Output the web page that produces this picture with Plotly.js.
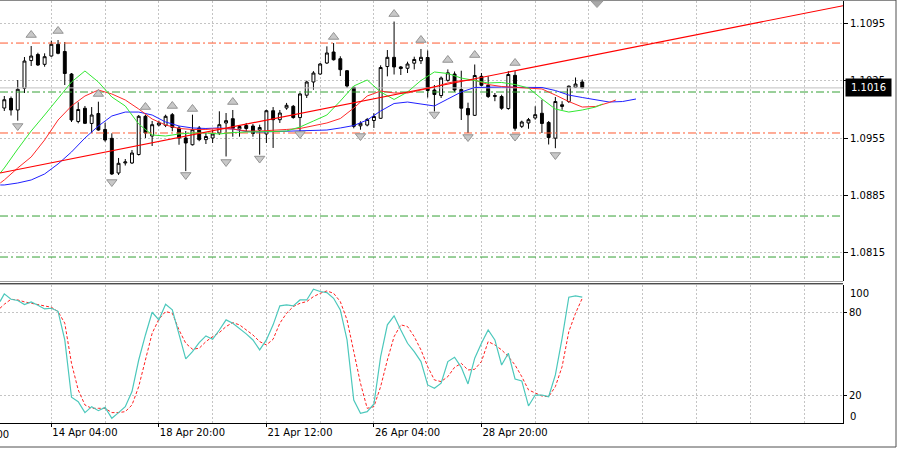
<!DOCTYPE html>
<html><head><meta charset="utf-8">
<script src="https://cdn.plot.ly/plotly-3.0.1.min.js"></script>
<style>html,body{margin:0;padding:0;background:#fff;} #chart{width:900px;height:449px;}</style>
</head><body><div id="chart"></div>
<script>
// ---- H4 candles (bar index 0..86) ----
const open = [1.09915,1.10031,1.09891,1.10155,1.10493,1.10567,1.10447,1.10548,1.10691,1.10603,
 1.10329,1.09751,1.09912,1.09727,1.09848,1.09654,1.09546,1.09124,1.09246,1.09246,
 1.09349,1.09814,1.09574,1.09708,1.09705,1.09834,1.09672,1.09550,1.09468,1.09672,
 1.09530,1.09550,1.09611,1.09733,1.09785,1.09660,1.09702,1.09696,1.09647,1.09599,
 1.09882,1.09773,1.09915,1.09936,1.09799,1.10071,1.10232,1.10329,1.10463,1.10597,
 1.10515,1.10369,1.10167,1.09698,1.09708,1.09763,1.09790,1.10420,1.10532,1.10415,
 1.10399,1.10461,1.10491,1.10530,1.10134,1.10067,1.10252,1.10329,1.10140,1.09909,
 1.09826,1.10301,1.10192,1.10055,1.10055,1.09909,1.10313,1.09692,1.09733,1.09794,
 1.09851,1.09739,1.09548,1.09934,1.09994,1.10168,1.10232];
const high = [1.10061,1.10055,1.10256,1.10536,1.10670,1.10588,1.10581,1.10735,1.10743,1.10719,
 1.10341,1.09985,1.09940,1.09927,1.09992,1.09736,1.09607,1.09307,1.09294,1.09404,
 1.09830,1.09834,1.09757,1.09761,1.09834,1.09854,1.09696,1.09635,1.09834,1.09696,
 1.09611,1.09651,1.09875,1.09854,1.09891,1.09708,1.09733,1.09720,1.09712,1.09894,
 1.09927,1.09891,1.09977,1.09952,1.10098,1.10248,1.10364,1.10463,1.10666,1.10706,
 1.10545,1.10378,1.10171,1.09753,1.09794,1.09851,1.10435,1.10621,1.10968,1.10427,
 1.10479,1.10540,1.10634,1.10615,1.10195,1.10299,1.10385,1.10360,1.10369,1.09980,
 1.10445,1.10341,1.10301,1.10098,1.10077,1.10364,1.10364,1.09761,1.09794,1.09936,
 1.10016,1.09757,1.10049,1.09998,1.10189,1.10287,1.10262];
const low = [1.09879,1.09824,1.09761,1.10098,1.10427,1.10427,1.10418,1.10540,1.10569,1.10195,
 1.09745,1.09729,1.09720,1.09611,1.09639,1.09505,1.09100,1.09100,1.09215,1.09234,
 1.09337,1.09550,1.09453,1.09692,1.09683,1.09632,1.09468,1.09147,1.09459,1.09511,
 1.09477,1.09489,1.09587,1.09325,1.09566,1.09566,1.09623,1.09566,1.09347,1.09489,
 1.09429,1.09733,1.09894,1.09785,1.09632,1.10037,1.10138,1.10321,1.10451,1.10493,
 1.10305,1.10159,1.09668,1.09651,1.09692,1.09672,1.09785,1.10301,1.10323,1.10317,
 1.10341,1.10385,1.10451,1.10043,1.09873,1.10037,1.10236,1.10111,1.09769,1.09611,
 1.09818,1.10179,1.10037,1.09998,1.09894,1.09894,1.09639,1.09672,1.09663,1.09773,
 1.09611,1.09471,1.09426,1.09894,1.09977,1.10159,1.10153];
const close = [1.10016,1.09891,1.10143,1.10487,1.10548,1.10439,1.10540,1.10691,1.10581,1.10335,
 1.09769,1.09897,1.09729,1.09830,1.09647,1.09526,1.09112,1.09242,1.09258,1.09367,
 1.09814,1.09611,1.09712,1.09733,1.09814,1.09680,1.09550,1.09489,1.09651,1.09530,
 1.09568,1.09599,1.09712,1.09761,1.09668,1.09690,1.09666,1.09605,1.09678,1.09882,
 1.09773,1.09854,1.09948,1.09799,1.10086,1.10232,1.10341,1.10451,1.10585,1.10503,
 1.10382,1.10183,1.09692,1.09729,1.09775,1.09812,1.10408,1.10532,1.10415,1.10397,
 1.10451,1.10506,1.10532,1.10128,1.10080,1.10280,1.10344,1.10134,1.09913,1.09832,
 1.10311,1.10192,1.10055,1.10067,1.09913,1.10323,1.09668,1.09745,1.09773,1.09834,
 1.09727,1.09556,1.09994,1.09955,1.10181,1.10207,1.10160];

// ---- Alligator lines ----
const lipsIdx = [-0.6,0,2,4,6,8,10,12,14,16,18,20,22,24,26,28,30,32,34,36,38,40,42,44,46,48,50,52,54,56,58,60,62,64,66,68,70,72,74,76,78,80,82,84,86,88,89];
const lipsVal = [1.09124,1.09185,1.09416,1.09635,1.09830,1.10037,1.10232,1.10366,1.10232,1.10049,1.09940,1.09720,1.09587,1.09574,1.09599,1.09611,1.09611,1.09599,1.09617,1.09623,1.09623,1.09629,1.09635,1.09684,1.09757,1.09830,1.10000,1.10183,1.10256,1.10110,1.10019,1.10110,1.10250,1.10354,1.10335,1.10280,1.10250,1.10220,1.10226,1.10201,1.10159,1.10025,1.09903,1.09866,1.09891,1.09927,1.09964];
const teethIdx = [-0.6,0,2,4,6,8,10,12,14,16,18,20,22,24,26,28,30,32,34,36,38,40,42,44,46,48,50,52,54,56,58,60,62,64,66,68,70,72,74,76,78,80,82,84,86,88,90,91];
const teethVal = [1.09002,1.09039,1.09185,1.09319,1.09526,1.09769,1.09940,1.10061,1.10134,1.10086,1.10013,1.09903,1.09781,1.09708,1.09666,1.09654,1.09654,1.09666,1.09660,1.09635,1.09635,1.09641,1.09654,1.09666,1.09696,1.09733,1.09787,1.09915,1.10061,1.10122,1.10098,1.10098,1.10134,1.10171,1.10220,1.10250,1.10256,1.10201,1.10177,1.10165,1.10159,1.10147,1.10073,1.09994,1.09927,1.09934,1.09982,1.10013];
const jawIdx = [-0.6,0,2,4,6,8,10,12,14,16,18,20,22,24,26,28,30,32,34,36,38,40,42,44,46,48,50,52,54,56,58,60,62,64,66,68,70,72,74,76,78,80,82,84,86,88,90,92,94];
const jawVal = [1.08978,1.08978,1.09002,1.09039,1.09112,1.09234,1.09380,1.09550,1.09696,1.09818,1.09866,1.09866,1.09830,1.09745,1.09696,1.09672,1.09666,1.09672,1.09660,1.09629,1.09623,1.09629,1.09635,1.09639,1.09639,1.09647,1.09672,1.09702,1.09769,1.09879,1.09970,1.09988,1.09964,1.09940,1.10025,1.10110,1.10165,1.10171,1.10171,1.10167,1.10167,1.10165,1.10128,1.10073,1.10043,1.10019,1.09988,1.09994,1.10025];

// ---- Fractals ----
const upIdx = [4,8,14,21,25,28,34,49,58,62,66,70,76];
const upVal = [1.10804,1.10853,1.10086,1.09927,1.09940,1.09903,1.09988,1.10780,1.11059,1.10743,1.10500,1.10560,1.10463];
const dnIdx = [2,16,27,33,38,44,53,64,69,76,82];
const dnVal = [1.09696,1.09014,1.09100,1.09258,1.09300,1.09599,1.09574,1.09836,1.09562,1.09568,1.09343];

// ---- Trend line & levels ----
const xRange = [-0.64, 124.8];
const trendVal = [1.09124, 1.11161];
const redLevels = [1.10706, 1.09611];
const greenLevels = [1.10110, 1.08600, 1.08101];
const lastPrice = 1.1016;
const priceTicks = [1.0815, 1.0885, 1.0955, 1.1025, 1.1095];

// ---- Stochastic ----
const stochIdx = [-0.64].concat(open.map((_, i) => i));
const kVal = [88.0,93.6,89.7,88.8,85.9,87.8,85.4,82.7,83.2,81.0,60.3,18.9,15.7,7.8,12.1,9.2,11.6,3.7,7.8,12.1,23.0,45.8,63.9,80.3,74.8,86.1,82.0,65.1,46.6,51.9,58.4,63.2,60.8,67.5,74.8,72.4,68.8,64.7,60.3,53.1,60.3,71.2,84.9,85.6,84.9,89.2,89.2,96.9,95.3,94.5,90.4,82.0,60.3,16.9,7.3,8.5,14.0,48.3,71.2,77.7,67.5,57.9,51.9,44.7,27.8,25.4,29.0,44.7,47.8,40.5,28.5,47.1,57.9,67.5,60.3,42.2,50.7,32.1,30.7,12.6,20.5,20.5,19.3,35.0,61.5,91.2,92.1,91.2];
const dVal = [83.2,86.1,89.7,89.2,87.8,86.8,85.9,84.7,83.9,80.8,72.4,43.4,24.2,13.3,10.9,10.9,10.9,7.8,7.8,8.5,13.3,26.6,45.8,65.1,75.3,80.8,79.6,67.5,57.9,53.6,54.3,59.1,62.7,65.6,70.0,72.8,71.2,67.5,63.9,59.1,56.7,60.8,72.4,79.6,84.4,86.8,88.0,91.6,94.0,95.7,94.0,88.0,74.8,51.9,29.0,10.9,12.1,26.6,45.8,62.7,71.2,70.0,62.7,53.1,41.0,31.4,30.2,33.8,40.5,43.4,38.6,39.1,44.7,59.1,56.7,53.1,48.3,42.2,33.8,24.2,21.8,19.8,19.3,26.6,41.0,66.3,79.6,90.4];

// ---- Time axis labels ----
const dateTickIdx = [7, 23, 39, 55, 71];
const dateTickText = ['14 Apr 04:00', '18 Apr 20:00', '21 Apr 12:00', '26 Apr 04:00', '28 Apr 20:00'];
const gridIdx = [15, 31, 47, 63, 79, 87, 95, 103, 111, 119];

const barIdx = open.map((_, i) => i);
const FONT = {family: 'DejaVu Sans', size: 10, color: '#000'};
const GRID = '#c4c4c4';
const traces = [];

redLevels.forEach(v => traces.push({type:'scatter', mode:'lines', x: xRange, y:[v, v], xaxis:'x', yaxis:'y',
  line:{color:'#ff5a30', width:1, dash:'8px,3px,2px,3px'}, hoverinfo:'skip'}));
greenLevels.forEach(v => traces.push({type:'scatter', mode:'lines', x: xRange, y:[v, v], xaxis:'x', yaxis:'y',
  line:{color:'#35a035', width:1, dash:'8px,3px,2px,3px'}, hoverinfo:'skip'}));
traces.push({type:'scatter', mode:'lines', x: xRange, y:[lastPrice, lastPrice], xaxis:'x', yaxis:'y',
  line:{color:'#c0c0c0', width:1}, hoverinfo:'skip'});

traces.push({type:'candlestick', x: barIdx, open, high, low, close, xaxis:'x', yaxis:'y',
  increasing:{line:{color:'#000', width:1}, fillcolor:'#fff'},
  decreasing:{line:{color:'#000', width:1}, fillcolor:'#000'},
  whiskerwidth:0, hoverinfo:'skip'});

traces.push({type:'scatter', mode:'lines', x: jawIdx, y: jawVal, xaxis:'x', yaxis:'y', line:{color:'#2020ff', width:1}});
traces.push({type:'scatter', mode:'lines', x: teethIdx, y: teethVal, xaxis:'x', yaxis:'y', line:{color:'#ff2a2a', width:1}});
traces.push({type:'scatter', mode:'lines', x: lipsIdx, y: lipsVal, xaxis:'x', yaxis:'y', line:{color:'#33e833', width:1}});
traces.push({type:'scatter', mode:'lines', x: xRange, y: trendVal, xaxis:'x', yaxis:'y', line:{color:'#ff0000', width:1.1}});

traces.push({type:'scatter', mode:'markers', x: upIdx, y: upVal, xaxis:'x', yaxis:'y',
  marker:{symbol:'triangle-up', size:9, color:'#c8c8c8', line:{color:'#949494', width:1}}});
traces.push({type:'scatter', mode:'markers', x: dnIdx, y: dnVal, xaxis:'x', yaxis:'y',
  marker:{symbol:'triangle-down', size:9, color:'#c8c8c8', line:{color:'#949494', width:1}}});

traces.push({type:'scatter', mode:'lines', x: stochIdx, y: dVal, xaxis:'x', yaxis:'y2', line:{color:'#ff2020', width:1, dash:'3px,2px'}});
traces.push({type:'scatter', mode:'lines', x: stochIdx, y: kVal, xaxis:'x', yaxis:'y2', line:{color:'#4cc8bc', width:1.2}});

const H = 449, PW = 843;
const py = p => 1 - p / H;
const px = p => p / PW;

const layout = {
  width: 900, height: 449,
  margin: {l:0, r:57, t:0, b:0},
  paper_bgcolor:'#fff', plot_bgcolor:'#fff',
  showlegend:false,
  boxgap: 0.38,
  font: FONT,
  xaxis: {domain:[0,1], range:xRange, anchor:'y2', fixedrange:true,
    tickmode:'array', tickvals:dateTickIdx, ticktext:dateTickText,
    ticks:'outside', ticklen:3, tickcolor:'#000', ticklabelposition:'outside right',
    tickfont:FONT, showgrid:true, gridcolor:GRID, griddash:'2px,2px', gridwidth:1,
    minor:{tickvals:gridIdx, showgrid:true, gridcolor:GRID, griddash:'2px,2px', gridwidth:1, ticks:''},
    showline:true, linecolor:'#000', linewidth:1, zeroline:false,
    rangeslider:{visible:false}},
  yaxis: {domain:[py(281), py(1)], range:[1.07809, 1.11218], anchor:'x', side:'right', fixedrange:true,
    tickmode:'array', tickvals:priceTicks, ticktext:priceTicks.map(v => v.toFixed(4)),
    ticks:'outside', ticklen:4, tickcolor:'#000', tickfont:FONT,
    showgrid:true, gridcolor:GRID, griddash:'2px,2px', gridwidth:1,
    showline:true, linecolor:'#000', linewidth:1, zeroline:false},
  yaxis2: {domain:[py(423.4), py(285)], range:[0, 100], anchor:'x', side:'right', fixedrange:true,
    tickmode:'array', tickvals:[20, 80], ticktext:['20', '80'],
    ticks:'outside', ticklen:3, tickcolor:'#000', tickfont:FONT,
    showgrid:true, gridcolor:GRID, griddash:'2px,2px', gridwidth:1,
    showline:true, linecolor:'#000', linewidth:1, zeroline:false},
  shapes: [
    {type:'line', xref:'paper', yref:'paper', x0:0, x1:px(896), y0:py(0.5), y1:py(0.5), line:{color:'#8a8a8a', width:1}},
    {type:'line', xref:'paper', yref:'paper', x0:0, x1:1, y0:py(281.5), y1:py(281.5), line:{color:'#a0a0a0', width:1}},
    {type:'line', xref:'paper', yref:'paper', x0:0, x1:1, y0:py(283.8), y1:py(283.8), line:{color:'#000', width:1}},
    {type:'line', xref:'paper', yref:'paper', x0:px(896), x1:px(896), y0:py(0), y1:py(447), line:{color:'#505050', width:1}},
    {type:'line', xref:'paper', yref:'paper', x0:0, x1:px(896), y0:py(447), y1:py(447), line:{color:'#505050', width:1}},
    {type:'path', xref:'paper', yref:'paper', path:`M ${px(591)} ${py(1)} L ${px(603)} ${py(1)} L ${px(597)} ${py(7.5)} Z`,
      fillcolor:'#a8a8a8', line:{color:'#999', width:1}}
  ],
  annotations: [
    {xref:'paper', x:px(845), xanchor:'left', yref:'y', y:lastPrice, yanchor:'middle', text:lastPrice.toFixed(4),
      showarrow:false, bgcolor:'#000', font:{family:'DejaVu Sans', size:10, color:'#fff'}, borderpad:1, width:43, height:15},
    {xref:'paper', x:px(848), xanchor:'left', yref:'paper', y:py(293), yanchor:'middle', text:'100', showarrow:false, font:FONT},
    {xref:'paper', x:px(848), xanchor:'left', yref:'paper', y:py(416), yanchor:'middle', text:'0', showarrow:false, font:FONT},
    {xref:'paper', x:px(10.5), xanchor:'right', yref:'paper', y:py(434.5), yanchor:'middle', text:'11 Apr 12:00', showarrow:false, font:FONT}
  ]
};

Plotly.newPlot('chart', traces, layout, {staticPlot:true, displayModeBar:false});
</script>
</body></html>
